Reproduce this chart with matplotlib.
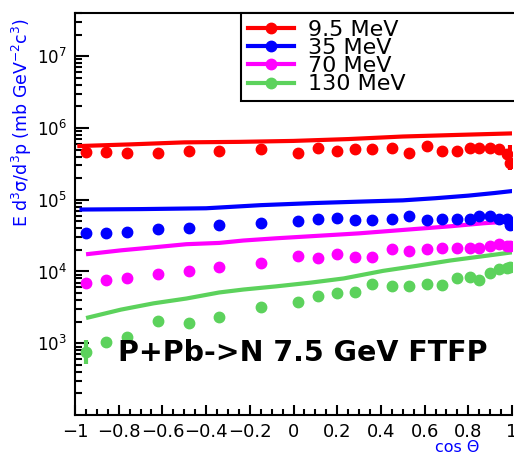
import matplotlib
matplotlib.use('Agg')
import matplotlib.pyplot as plt
from matplotlib.lines import Line2D
from matplotlib.ticker import LogLocator, MultipleLocator, NullFormatter

plt.rcParams['font.family'] = ['DejaVu Sans']
plt.rcParams['mathtext.fontset'] = 'dejavusans'

# data points, shared cos(theta) grid
cos_pts = [-0.95, -0.86, -0.76, -0.62, -0.48, -0.34, -0.15, 0.02, 0.11, 0.20, 0.28, 0.36,
           0.45, 0.53, 0.61, 0.68, 0.75, 0.81, 0.85, 0.90, 0.94, 0.975, 0.99]

red_pts = [4.6e5, 4.6e5, 4.5e5, 4.5e5, 4.8e5, 4.8e5, 5.1e5, 4.5e5, 5.2e5, 4.8e5, 5.1e5, 5.1e5,
           5.2e5, 4.5e5, 5.6e5, 4.8e5, 4.8e5, 5.2e5, 5.2e5, 5.2e5, 5.1e5, 4.3e5, 3.2e5]
blue_pts = [3.4e4, 3.4e4, 3.6e4, 3.9e4, 4.0e4, 4.5e4, 4.7e4, 5.0e4, 5.4e4, 5.6e4, 5.2e4, 5.3e4,
            5.4e4, 5.9e4, 5.3e4, 5.4e4, 5.4e4, 5.4e4, 5.9e4, 5.9e4, 5.4e4, 5.4e4, 4.5e4]
mag_pts = [6.9e3, 7.7e3, 8.1e3, 9.2e3, 1.03e4, 1.14e4, 1.31e4, 1.62e4, 1.53e4, 1.73e4, 1.6e4, 1.57e4,
           2.03e4, 1.9e4, 2.03e4, 2.1e4, 2.1e4, 2.1e4, 2.1e4, 2.24e4, 2.39e4, 2.24e4, 2.24e4]
green_pts = [760, 1050, 1230, 2060, 1890, 2350, 3240, 3800, 4600, 4970, 5100, 6600,
             6200, 6200, 6600, 6400, 8100, 8500, 7700, 9500, 1.07e4, 1.11e4, 1.17e4]

# only a couple of points have visible error bars
red_err_lo = [0] * 22 + [0.6e5]
red_err_hi = [0] * 22 + [2.6e5]
green_err_lo = [240] + [0] * 22
green_err_hi = [360] + [0] * 22

# FTFP model curves
red_line_x = [-0.98, -0.75, -0.5, -0.25, 0.0, 0.25, 0.5, 0.75, 1.0]
red_line = [5.6e5, 5.9e5, 6.3e5, 6.4e5, 6.6e5, 7.0e5, 7.6e5, 8.0e5, 8.4e5]
blue_line_x = [-0.97, -0.7, -0.4, -0.15, 0.1, 0.35, 0.5, 0.65, 0.8, 0.92, 1.0]
blue_line = [7.3e4, 7.4e4, 7.6e4, 8.4e4, 9.0e4, 9.5e4, 9.8e4, 1.05e5, 1.14e5, 1.24e5, 1.32e5]
mag_line_x = [-0.94, -0.79, -0.64, -0.49, -0.34, -0.23, -0.08, 0.08, 0.23, 0.30, 0.72, 0.87, 1.0]
mag_line = [1.75e4, 1.97e4, 2.17e4, 2.4e4, 2.5e4, 2.7e4, 2.9e4, 3.1e4, 3.3e4, 3.4e4, 4.27e4, 4.7e4, 5.0e4]
green_line_x = [-0.94, -0.79, -0.64, -0.49, -0.34, -0.23, -0.08, 0.08, 0.23, 0.41, 0.565, 0.716, 0.93, 1.0]
green_line = [2.28e3, 2.94e3, 3.6e3, 4.2e3, 5.1e3, 5.6e3, 6.2e3, 7.0e3, 8.0e3, 1.02e4, 1.2e4,
              1.42e4, 1.73e4, 1.85e4]

labels = ['9.5 MeV', '35 MeV', '70 MeV', '130 MeV']
colors = ['#ff0000', '#0000ff', '#ff00ff', '#5cd25c']

fig = plt.figure(figsize=(5.14, 4.57), dpi=100)
ax = fig.add_axes([75 / 514, 42 / 457, 437 / 514, 402 / 457])

lines = [(red_line_x, red_line), (blue_line_x, blue_line), (mag_line_x, mag_line), (green_line_x, green_line)]
points = [red_pts, blue_pts, mag_pts, green_pts]
errs = [([0] * 23, [0] * 23)] * 4
errs[0] = (red_err_lo, red_err_hi)
errs[3] = (green_err_lo, green_err_hi)

for (lx, ly), c in zip(lines, colors):
    ax.plot(lx, ly, color=c, lw=3, zorder=2)
for p, c, e in zip(points, colors, errs):
    ax.errorbar(cos_pts, p, yerr=[e[0], e[1]], fmt='o', color=c, ms=7.5, elinewidth=3,
                capsize=0, zorder=3)

ax.set_yscale('log')
ax.set_xlim(-1, 1)
ax.set_ylim(100, 4e7)
ax.set_yticks([1e3, 1e4, 1e5, 1e6, 1e7])
ax.yaxis.set_minor_locator(LogLocator(base=10, subs=range(2, 10), numticks=20))
ax.yaxis.set_minor_formatter(NullFormatter())
ax.xaxis.set_minor_locator(MultipleLocator(0.05))
ax.set_xticks([-1, -0.8, -0.6, -0.4, -0.2, 0, 0.2, 0.4, 0.6, 0.8, 1])
ax.set_xticklabels(['\u22121', '\u22120.8', '\u22120.6', '\u22120.4', '\u22120.2', '0',
                    '0.2', '0.4', '0.6', '0.8', '1'])

ax.tick_params(axis='y', which='major', direction='in', length=10, width=1.5, labelsize=12, pad=6)
ax.tick_params(axis='y', which='minor', direction='in', length=5, width=1.5)
ax.tick_params(axis='x', which='major', direction='in', length=7, width=1.5, labelsize=13, pad=6)
ax.tick_params(axis='x', which='minor', direction='in', length=4, width=1.5)
for s in ['left', 'bottom', 'top']:
    ax.spines[s].set_linewidth(1.5)
ax.spines['right'].set_visible(False)

handles = [Line2D([], [], color=c, lw=3, marker='o', ms=7.5) for c in colors]
leg = fig.legend(handles, labels, loc='upper left', mode='expand',
                 bbox_to_anchor=(241 / 514, 1 - 102 / 457, 0.6, (102 - 13) / 457),
                 fontsize=16, labelspacing=-0.08, borderpad=0.3, handlelength=2.1,
                 handletextpad=0.6, fancybox=False, framealpha=1, borderaxespad=0)
leg.get_frame().set_edgecolor('black')
leg.get_frame().set_linewidth(1.5)

fig.text(22 / 514, 1 - 18 / 457, 'E d$^{3}$\u03c3/d$^{3}$p (mb GeV$^{-2}$c$^{3}$)',
         color='#0000ff', rotation=90, ha='center', va='top', fontsize=12.5)
fig.text(457 / 514, 1 - 447 / 457, 'cos \u0398', color='#0000ff', ha='center', va='center', fontsize=11.5)
fig.text(118 / 514, 1 - 353 / 457, 'P+Pb->N 7.5 GeV FTFP', fontweight='bold',
         ha='left', va='center', fontsize=20.5)

plt.savefig('out.png', dpi=100)
